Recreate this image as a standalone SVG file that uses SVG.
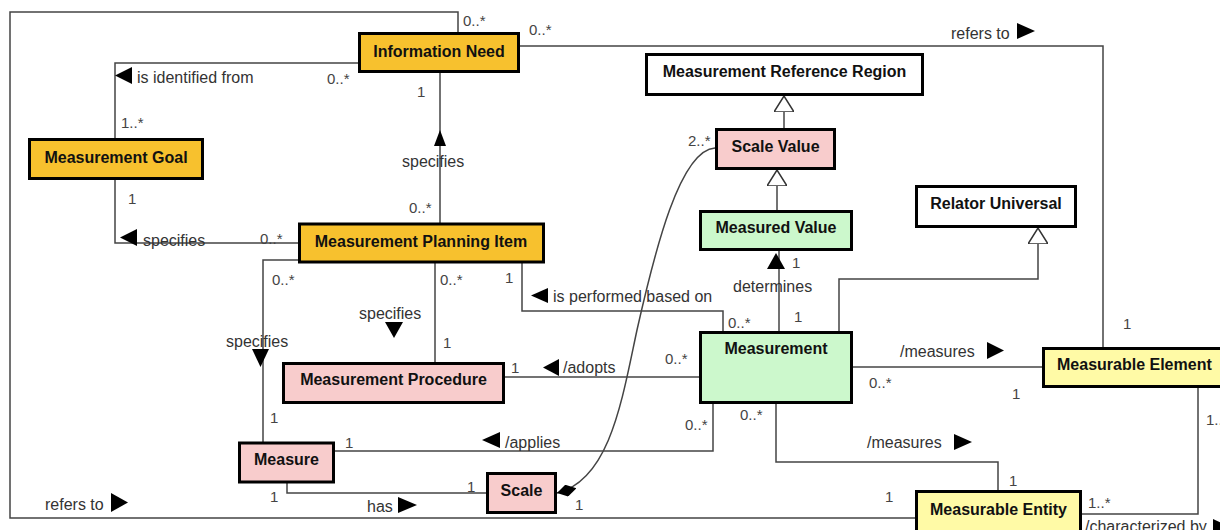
<svg xmlns="http://www.w3.org/2000/svg" width="1220" height="530" viewBox="0 0 1220 530">
  <defs>
    <style>
      .box { stroke: #000; stroke-width: 3; }
      .orange { fill: #F7C12E; }
      .pink { fill: #F8CCCC; }
      .green { fill: #CCF8CC; }
      .yellow { fill: #FFFAA6; }
      .white { fill: #FFFFFF; }
      .nt { font-family: "Liberation Sans", Arial, sans-serif; font-size: 16px; font-weight: bold; fill: #111; text-anchor: middle; }
      .c { fill: none; stroke: #444; stroke-width: 1.5; }
      .lb { font-family: "Liberation Sans", Arial, sans-serif; font-size: 16px; fill: #333; }
      .m { font-family: "Liberation Sans", Arial, sans-serif; font-size: 15px; fill: #444; }
      .dir { fill: #000; }
    </style>
    <!-- hollow triangle for generalization -->
    <marker id="gen" viewBox="0 0 16 20" refX="16" refY="10" markerWidth="16" markerHeight="20" markerUnits="userSpaceOnUse" orient="auto">
      <path d="M0,0 L16,10 L0,20 Z" fill="#fff" stroke="#333" stroke-width="1.5"/>
    </marker>
    <!-- filled diamond for composition -->
    <marker id="comp" viewBox="0 0 20 12" refX="0" refY="6" markerWidth="20" markerHeight="12" markerUnits="userSpaceOnUse" orient="auto">
      <path d="M0,6 L10,0 L20,6 L10,12 Z" fill="#000"/>
    </marker>
  </defs>

  <rect width="1220" height="530" fill="#fff"/>

  <!-- connectors -->
  <g id="connectors">
    <path class="c" d="M458,32 V12 H10 V518 H915"/>
    <path class="c" d="M520,46 H1103 V347"/>
    <path class="c" d="M358,63 H115 V138"/>
    <path class="c" d="M115,180 V243 H298"/>
    <path class="c" d="M440,73 V223"/>
    <path class="c" d="M298,260 H263 V442"/>
    <path class="c" d="M435,263 V362"/>
    <path class="c" d="M522,263 V311 H723 V331"/>
    <path class="c" d="M505,377 H699"/>
    <path class="c" d="M335,451 H713 V404"/>
    <path class="c" d="M287,483 V493 H486"/>
    <path class="c" d="M557,493 C610,480 622,400 637,330 C655,250 680,150 715,148" marker-start="url(#comp)"/>
    <path class="c" d="M779,331 V251"/>
    <path class="c" d="M839,331 V279 H1038 V228" marker-end="url(#gen)"/>
    <path class="c" d="M853,367 H1042"/>
    <path class="c" d="M776,404 V462 H998 V490"/>
    <path class="c" d="M1198,388 V514 H1082"/>
    <path class="c" d="M784,128 V96" marker-end="url(#gen)"/>
    <path class="c" d="M777,210 V170" marker-end="url(#gen)"/>

    <!-- reading-direction triangles -->
    <polygon class="dir" points="115,75.5 132,67 132,84"/>
    <polygon class="dir" points="120,237.5 137,229 137,246"/>
    <polygon class="dir" points="440,130 434,146 446,146"/>
    <polygon class="dir" points="385,322 403,322 394,338"/>
    <polygon class="dir" points="252,349 269,349 260.5,367"/>
    <polygon class="dir" points="531,295.5 548,288 548,303"/>
    <polygon class="dir" points="543,367.5 559,359 559,376"/>
    <polygon class="dir" points="482,440 500,432 500,448"/>
    <polygon class="dir" points="776,253 767,269 785,269"/>
    <polygon class="dir" points="987,342 1004,350.5 987,359"/>
    <polygon class="dir" points="954,434 972,442 954,450"/>
    <polygon class="dir" points="398,497 417,505 398,513"/>
    <polygon class="dir" points="111,493 128,502.5 111,512"/>
    <polygon class="dir" points="1017,23 1035,31 1017,39"/>
    <polygon class="dir" points="1213,519 1230,527 1213,535"/>

    <!-- association names -->
    <text class="lb" x="137" y="83">is identified from</text>
    <text class="lb" x="143" y="246">specifies</text>
    <text class="lb" x="402" y="167">specifies</text>
    <text class="lb" x="359" y="319">specifies</text>
    <text class="lb" x="226" y="347">specifies</text>
    <text class="lb" x="553" y="302">is performed based on</text>
    <text class="lb" x="563" y="373">/adopts</text>
    <text class="lb" x="505" y="448">/applies</text>
    <text class="lb" x="733" y="292">determines</text>
    <text class="lb" x="900" y="357">/measures</text>
    <text class="lb" x="867" y="448">/measures</text>
    <text class="lb" x="367" y="512">has</text>
    <text class="lb" x="45" y="510">refers to</text>
    <text class="lb" x="951" y="39">refers to</text>
    <text class="lb" x="1085" y="532">/characterized by</text>

    <!-- multiplicities -->
    <text class="m" x="463" y="26">0..*</text>
    <text class="m" x="529" y="35">0..*</text>
    <text class="m" x="327" y="84">0..*</text>
    <text class="m" x="121" y="128">1..*</text>
    <text class="m" x="128" y="204">1</text>
    <text class="m" x="260" y="244">0..*</text>
    <text class="m" x="417" y="97">1</text>
    <text class="m" x="409" y="213">0..*</text>
    <text class="m" x="272" y="285">0..*</text>
    <text class="m" x="440" y="285">0..*</text>
    <text class="m" x="505" y="283">1</text>
    <text class="m" x="443" y="348">1</text>
    <text class="m" x="270" y="423">1</text>
    <text class="m" x="511" y="373">1</text>
    <text class="m" x="665" y="364">0..*</text>
    <text class="m" x="728" y="328">0..*</text>
    <text class="m" x="792" y="268">1</text>
    <text class="m" x="794" y="322">1</text>
    <text class="m" x="688" y="146">2..*</text>
    <text class="m" x="685" y="430">0..*</text>
    <text class="m" x="740" y="420">0..*</text>
    <text class="m" x="345" y="448">1</text>
    <text class="m" x="270" y="502">1</text>
    <text class="m" x="467" y="492">1</text>
    <text class="m" x="575" y="510">1</text>
    <text class="m" x="869" y="388">0..*</text>
    <text class="m" x="1012" y="399">1</text>
    <text class="m" x="1123" y="329">1</text>
    <text class="m" x="1206" y="425">1..*</text>
    <text class="m" x="1009" y="486">1</text>
    <text class="m" x="885" y="502">1</text>
    <text class="m" x="1088" y="508">1..*</text>
  </g>

  <!-- classes -->
  <g id="information-need">
    <rect class="box orange" x="359.5" y="33.5" width="159" height="38"/>
    <text class="nt" x="439" y="57">Information Need</text>
  </g>
  <g id="measurement-goal">
    <rect class="box orange" x="29.5" y="139.5" width="173" height="39"/>
    <text class="nt" x="116" y="163">Measurement Goal</text>
  </g>
  <g id="measurement-planning-item">
    <rect class="box orange" x="299.5" y="224" width="244" height="38"/>
    <text class="nt" x="421" y="247">Measurement Planning Item</text>
  </g>
  <g id="measurement-reference-region">
    <rect class="box white" x="646.5" y="54.5" width="276" height="40"/>
    <text class="nt" x="784.5" y="77">Measurement Reference Region</text>
  </g>
  <g id="scale-value">
    <rect class="box pink" x="716.5" y="129.5" width="118" height="39"/>
    <text class="nt" x="775.5" y="152">Scale Value</text>
  </g>
  <g id="measured-value">
    <rect class="box green" x="700.5" y="211.5" width="151" height="38"/>
    <text class="nt" x="776" y="233">Measured Value</text>
  </g>
  <g id="relator-universal">
    <rect class="box white" x="916.5" y="186.5" width="159" height="40"/>
    <text class="nt" x="996" y="209">Relator Universal</text>
  </g>
  <g id="measurement">
    <rect class="box green" x="700.5" y="332.5" width="151" height="70"/>
    <text class="nt" x="776" y="354">Measurement</text>
  </g>
  <g id="measurement-procedure">
    <rect class="box pink" x="283.5" y="363.5" width="220" height="39"/>
    <text class="nt" x="393.5" y="385">Measurement Procedure</text>
  </g>
  <g id="measure">
    <rect class="box pink" x="239.5" y="443" width="94" height="39"/>
    <text class="nt" x="286.5" y="465">Measure</text>
  </g>
  <g id="scale">
    <rect class="box pink" x="487.5" y="473.5" width="68" height="39"/>
    <text class="nt" x="521.5" y="496">Scale</text>
  </g>
  <g id="measurable-element">
    <rect class="box yellow" x="1043.5" y="348.5" width="190" height="38"/>
    <text class="nt" x="1057" y="370" style="text-anchor:start">Measurable Element</text>
  </g>
  <g id="measurable-entity">
    <rect class="box yellow" x="916.5" y="491.5" width="164" height="50"/>
    <text class="nt" x="998.5" y="515">Measurable Entity</text>
  </g>
</svg>
